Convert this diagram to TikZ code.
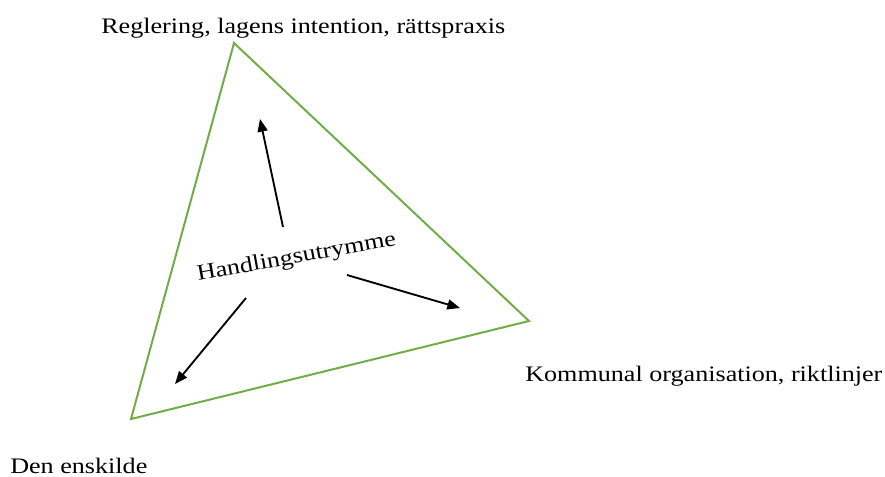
\documentclass[tikz,border=0pt]{standalone}
\usepackage{fontspec}
\setmainfont{Liberation Serif}
\usetikzlibrary{arrows.meta}
\definecolor{trigreen}{HTML}{70AD47}
\tikzset{
  tri/.style={draw=trigreen, line width=1.5pt, line join=miter},
  arr/.style={draw=black, line width=1.4pt, -{Triangle[length=9.5pt,width=7.5pt]}},
  lbl/.style={inner sep=0pt, font=\fontsize{16.6}{19}\selectfont}
}
\begin{document}
\begin{tikzpicture}[x=0.75pt,y=-0.75pt]
\useasboundingbox (0,0) rectangle (885,476);
% triangle
\coordinate (T) at (234,43);
\coordinate (R) at (529,321);
\coordinate (B) at (131,419);
\draw[tri] (T) -- (R) -- (B) -- cycle;
% labels
\node[lbl, anchor=base west] (top) at (101,33) {\scalebox{1.18}[1]{Reglering, lagens intention, rättspraxis}};
\node[lbl, anchor=base west] (right) at (525,381) {\scalebox{1.18}[1]{Kommunal organisation, riktlinjer}};
\node[lbl, anchor=base west] (left) at (10,473) {\scalebox{1.18}[1]{Den enskilde}};
\node[lbl, anchor=base west, rotate=10.2] (centre) at (198,281) {\scalebox{1.18}[1]{Handlingsutrymme}};
% arrows
\coordinate (a1s) at (283,227);
\coordinate (a1e) at (260,119);
\coordinate (a2s) at (347,275);
\coordinate (a2e) at (460,308);
\coordinate (a3s) at (246,298);
\coordinate (a3e) at (175,384);
\draw[arr] (a1s) -- (a1e);
\draw[arr] (a2s) -- (a2e);
\draw[arr] (a3s) -- (a3e);
\end{tikzpicture}
\end{document}
